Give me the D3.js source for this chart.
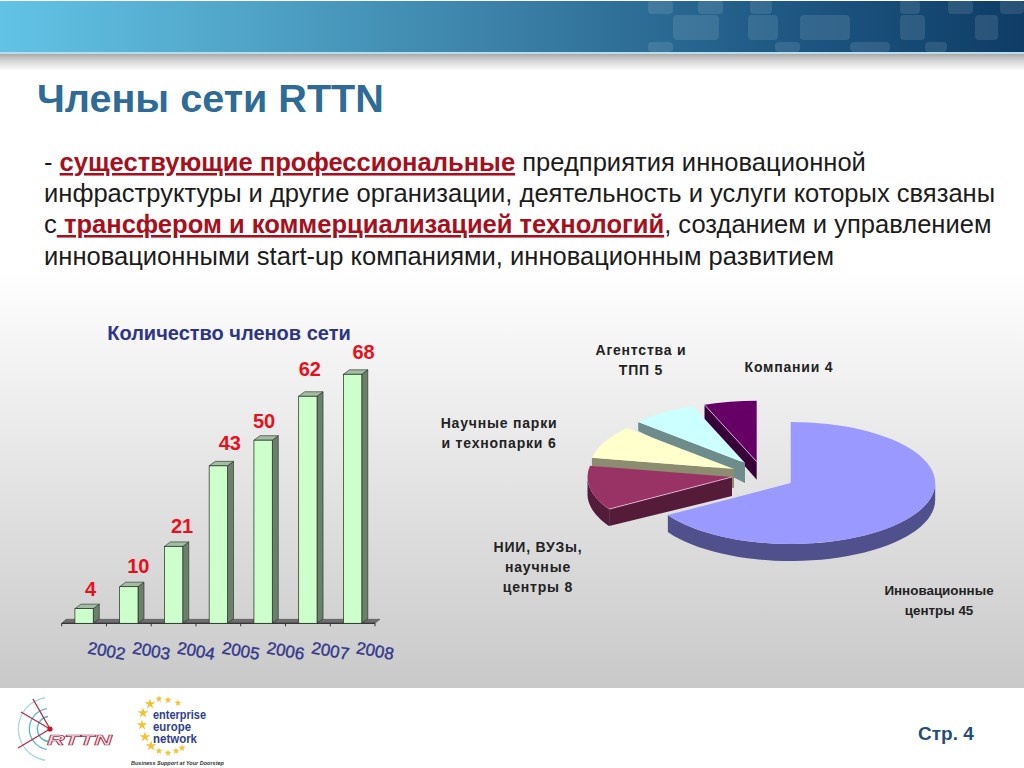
<!DOCTYPE html>
<html><head><meta charset="utf-8">
<script src="https://cdn.jsdelivr.net/npm/d3@7"></script>
<style>html,body{margin:0;padding:0;background:#fff;overflow:hidden}text{font-family:"Liberation Sans",Arial,sans-serif;white-space:pre}</style>
</head><body><svg id="c" width="1024" height="768" xmlns="http://www.w3.org/2000/svg"></svg>
<script>
const years = ["2002","2003","2004","2005","2006","2007","2008"];
const members = [4,10,21,43,50,62,68];
const pieNames = [["Инновационные","центры 45"],["НИИ, ВУЗы,","научные","центры 8"],["Научные парки","и технопарки 6"],["Агентства и","ТПП 5"],["Компании 4"]];
const pieValues = [45,8,6,5,4];
const titleText = "Члены сети RTTN";
const chartTitle = "Количество членов сети";
const pageLabel = "Стр. 4";

const svg = d3.select("#c");
const defs = svg.append("defs");
function grad(id,stops,x2,y2){const g=defs.append("linearGradient").attr("id",id).attr("x1",0).attr("y1",0).attr("x2",x2).attr("y2",y2);
  stops.forEach(s=>g.append("stop").attr("offset",s[0]).attr("stop-color",s[1]));}
grad("hdr",[[0,"#62c3e6"],[.25,"#4fa3c6"],[.5,"#3a7fa6"],[.75,"#1f5a85"],[1,"#0e3c66"]],1,0);
grad("shadow",[[0,"#a9a9a9"],[.4,"#d5d5d5"],[1,"#ffffff"]],0,1);
grad("body",[[0,"#ffffff"],[.32,"#ffffff"],[1,"#c9c9c9"]],0,1);

// page background
svg.append("rect").attr("width",1024).attr("height",768).attr("fill","#fff");
svg.append("rect").attr("y",70).attr("width",1024).attr("height",618).attr("fill","url(#body)");
svg.append("rect").attr("y",54).attr("width",1024).attr("height",17).attr("fill","url(#shadow)");
svg.append("rect").attr("y",1).attr("width",1024).attr("height",51).attr("fill","url(#hdr)");
svg.append("rect").attr("y",52).attr("width",1024).attr("height",2).attr("fill","#b9dcea");
const blocks=[[648,0,25,14],[673,15,46,25],[698,0,25,14],[648,42,25,10],[748,15,30,25],[750,0,22,14],[800,15,50,25],[775,42,25,10],[850,42,40,10],[900,15,25,25],[925,42,22,10],[900,0,20,14],[948,0,25,14],[975,15,23,25],[1000,0,24,14]];
svg.append("g").selectAll("rect").data(blocks).join("rect")
 .attr("x",d=>d[0]).attr("y",d=>d[1]).attr("width",d=>d[2]).attr("height",d=>d[3]).attr("rx",4).attr("fill","#fff").attr("opacity",.11);

// title and paragraph
svg.append("text").attr("x",37).attr("y",112).attr("font-size",39.6).attr("font-weight","bold").attr("fill","#2f6b97").text(titleText);
const RED="#a80f1c", BK="#1c1c1c";
const para=[[171,[["- ",0],["существующие профессиональные",1],[" предприятия инновационной",0]]],
 [202,[["инфраструктуры и другие организации, деятельность и услуги которых связаны",0]]],
 [233,[["с",0],[" трансфером и коммерциализацией технологий",1],[", созданием и управлением",0]]],
 [265,[["инновационными start-up компаниями, инновационным развитием",0]]]];
para.forEach(([y,parts])=>{const t=svg.append("text").attr("x",44).attr("y",y).attr("font-size",25.55).attr("fill",BK);
  parts.forEach(([s,b])=>{const ts=t.append("tspan").text(s);
    if(b) ts.attr("font-weight","bold").attr("fill",RED).attr("text-decoration","underline");});});

// bar chart
const baseY=623.3, dx=6, dy=4.5;
const x=d3.scaleBand().domain(years).range([61.7,375]).paddingInner(.59).paddingOuter(.295);
const y=d3.scaleLinear().domain([0,68]).range([baseY,374.3]);
const bw=x.bandwidth();
svg.append("text").attr("x",229).attr("y",340).attr("text-anchor","middle").attr("font-size",20).attr("font-weight","bold").attr("fill","#2e3586").text(chartTitle);
const floor=d3.path();floor.moveTo(61.7,baseY);floor.lineTo(66,baseY-4);floor.lineTo(380,baseY-4);floor.lineTo(375,baseY);floor.closePath();
svg.append("path").attr("d",floor.toString()).attr("fill","#6e6e6e").attr("stroke","#444").attr("stroke-width",.5);
svg.append("line").attr("x1",61.7).attr("x2",375).attr("y1",baseY).attr("y2",baseY).attr("stroke","#222").attr("stroke-width",1);
const step=x.step();
d3.range(years.length+1).forEach(i=>{const tx=61.7+i*step;
  svg.append("line").attr("x1",tx).attr("x2",tx).attr("y1",baseY).attr("y2",baseY+3).attr("stroke","#333").attr("stroke-width",1);});
const bars=svg.append("g").selectAll("g").data(members).join("g");
const X=(d,i)=>x(years[i]);
bars.append("path").attr("fill","#6b806b").attr("stroke","#1f2a1f").attr("stroke-width",.6)
 .attr("d",(d,i)=>{const p=d3.path(),a=X(d,i)+bw,t=y(d);p.moveTo(a,t);p.lineTo(a+dx,t-dy);p.lineTo(a+dx,baseY-dy);p.lineTo(a,baseY);p.closePath();return p.toString();});
bars.append("path").attr("fill","#a3bca3").attr("stroke","#1f2a1f").attr("stroke-width",.6)
 .attr("d",(d,i)=>{const p=d3.path(),a=X(d,i),t=y(d);p.moveTo(a,t);p.lineTo(a+dx,t-dy);p.lineTo(a+bw+dx,t-dy);p.lineTo(a+bw,t);p.closePath();return p.toString();});
bars.append("rect").attr("x",X).attr("y",d=>y(d)).attr("width",bw).attr("height",d=>baseY-y(d)).attr("fill","#ccffcc").attr("stroke","#1f2a1f").attr("stroke-width",.7);
// the reference's value labels sit at hand-placed offsets from their bars
const nudgeX=[6.5,9.5,8.5,11.5,1,2,11], nudgeY=[13,13.5,13,16,12,20,15];
svg.append("g").selectAll("text").data(members).join("text")
 .attr("x",(d,i)=>X(d,i)+bw/2+nudgeX[i]).attr("y",(d,i)=>y(d)-nudgeY[i]).attr("text-anchor","middle")
 .attr("font-size",20).attr("font-weight","bold").attr("fill","#e8101c").text(d=>d);
svg.append("g").selectAll("text").data(years).join("text")
 .attr("text-anchor","middle").attr("font-size",17).attr("fill","#34398c").attr("stroke","#34398c").attr("stroke-width",.4)
 .attr("transform",d=>`translate(${x(d)+bw/2+21.5},${656.5}) rotate(10)`).text(d=>d);

// exploded 3D pie
const R=144.5, RY=61;
const pie=d3.pie().sort(null)(pieValues);
const sty=[
 {top:"#9999ff",wall:"#50508c",ax:790.7,ay:483,  rim:17,apex:17},
 {top:"#993366",wall:"#541c38",ax:732,  ay:477,  rim:17,apex:19},
 {top:"#ffffcc",wall:"#8c8c70",ax:734,  ay:469,  rim:8, apex:19},
 {top:"#ccffff",wall:"#6f8c8c",ax:745,  ay:463,  rim:9, apex:20},
 {top:"#660066",wall:"#380038",ax:756.7,ay:461.7,rim:15,apex:18}];
const arc=d3.arc().innerRadius(0).outerRadius(R);
const pg=svg.append("g");
const pts=(a,s)=>[s.ax+R*Math.sin(a),s.ay-RY*Math.cos(a)];
d3.range(pie.length-1,-1,-1).forEach(i=>{const d=pie[i],s=sty[i],g=pg.append("g");
  // rim wall, sampled along the visible lower half of the slice
  const lo=Math.max(d.startAngle,Math.PI/2),hi=Math.min(d.endAngle,1.5*Math.PI);
  if(hi>lo){const ang=d3.range(0,41).map(k=>lo+(hi-lo)*k/40);
    const up=ang.map(a=>pts(a,s)),dn=ang.slice().reverse().map(a=>{const q=pts(a,s);return [q[0],q[1]+s.rim];});
    g.append("path").attr("d",d3.line()(up.concat(dn))+"Z").attr("fill",s.wall);}
  // radial wall on the lower-left edge of the slice
  const e=pts(d.startAngle,s);
  if(i>0) g.append("path").attr("d",d3.line()([e,[s.ax,s.ay],[s.ax,s.ay+s.apex],[e[0],e[1]+s.rim]])+"Z").attr("fill",s.wall);
  g.append("path").attr("d",arc(d)).attr("transform",`translate(${s.ax},${s.ay}) scale(1,${RY/R})`).attr("fill",s.top);
  if(i===1||i===4) g.append("line").attr("x1",e[0]).attr("y1",e[1]).attr("x2",s.ax).attr("y2",s.ay).attr("stroke","#ffd9ff").attr("stroke-width",.7);
});
const labelPos=[[939,595],[538,552],[499,428],[641,355],[789,372]];
const labelGap=[20,20,20,20,0];
pieNames.forEach((lines,i)=>{lines.forEach((l,j)=>{
  svg.append("text").attr("x",labelPos[i][0]).attr("y",labelPos[i][1]+j*labelGap[i]).attr("text-anchor","middle")
   .attr("font-size",i===0?13.4:14).attr("letter-spacing",i===0?0:.8).attr("font-weight","bold").attr("fill","#222").text(l);});});

// footer
svg.append("text").attr("x",918).attr("y",740).attr("font-size",19).attr("font-weight","bold").attr("fill","#1f5078").text(pageLabel);
const lg=svg.append("g").attr("fill","none");
[12,20,31].forEach((r,i)=>{lg.append("path").attr("d",d3.arc().innerRadius(r).outerRadius(r+1.3).startAngle(-Math.PI*.95).endAngle(-Math.PI*.05)()).attr("transform","translate(50,729)").attr("fill",["#58b8c8","#58b8c8","#a8d8e0"][i]);});
[[33,699],[21,712],[18,748]].forEach(p=>lg.append("line").attr("x1",50).attr("y1",729).attr("x2",p[0]).attr("y2",p[1]).attr("stroke","#b03048").attr("stroke-width",1.4));
lg.append("circle").attr("cx",50).attr("cy",729).attr("r",2.6).attr("fill","#c8102e");
svg.append("text").attr("x",47).attr("y",745).attr("font-size",15).attr("font-weight","bold").attr("font-style","italic").attr("fill","#f4dfe6").attr("stroke","#a8324e").attr("stroke-width",.7).attr("textLength",65).attr("lengthAdjust","spacingAndGlyphs").text("RTTN");
const stars=[[150,704],[159,699],[168,700],[178,703],[143,713],[142,725],[145,737],[151,746],[159,751],[168,753],[176,751],[182,748]];
const sym=d3.symbol().type(d3.symbolStar);
svg.append("g").selectAll("path").data(stars).join("path").attr("d",(d,i)=>sym.size(i<1||(i>3&&i<8)?34:16)()).attr("transform",d=>`translate(${d[0]},${d[1]})`).attr("fill","#f2c230");
[["enterprise",719],["europe",731],["network",743]].forEach(([t,yy])=>svg.append("text").attr("x",153).attr("y",yy).attr("font-size",12).attr("font-weight","bold").attr("fill","#2f3f90").attr("textLength",t==="enterprise"?53:t==="europe"?38:44).attr("lengthAdjust","spacingAndGlyphs").text(t));
svg.append("text").attr("x",131).attr("y",765).attr("font-size",5.5).attr("font-style","italic").attr("font-weight","bold").attr("fill","#333").text("Business Support at Your Doorstep");
</script></body></html>
